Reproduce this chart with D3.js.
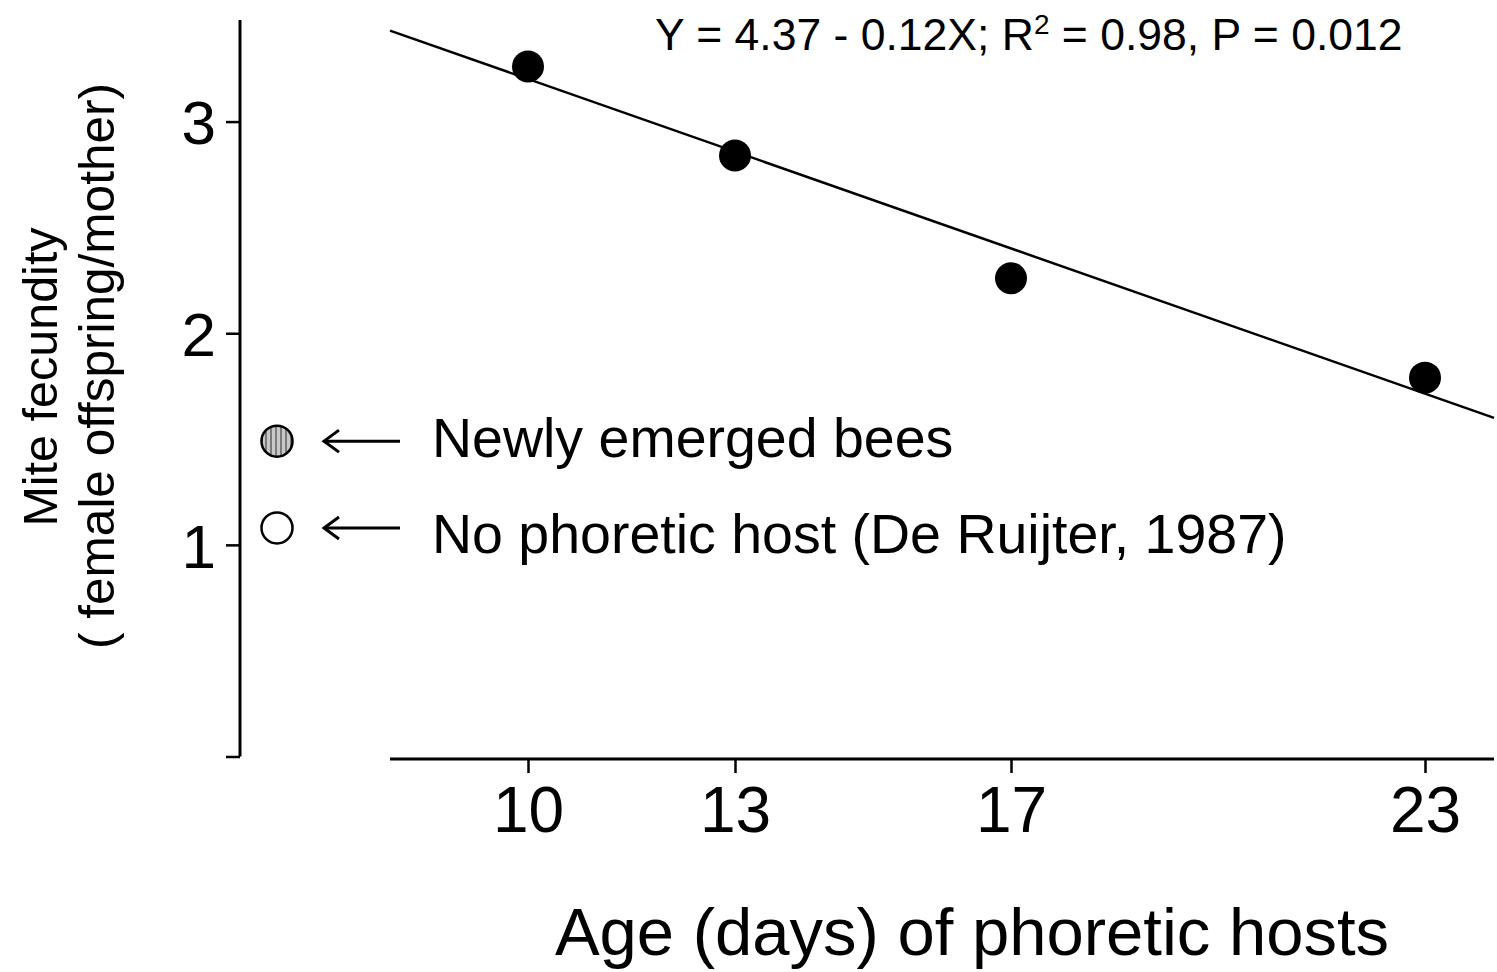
<!DOCTYPE html>
<html><head><meta charset="utf-8">
<script src="https://cdn.jsdelivr.net/npm/d3@7"></script>
<style>html,body{margin:0;padding:0;background:#fff;}svg{display:block;}text{font-family:"Liberation Sans",Arial,sans-serif;fill:#000;}</style>
</head><body><svg id="c" width="1497" height="972"></svg>
<script>
// Data
const ages = [10, 13, 17, 23];
const fecundity = [3.26, 2.84, 2.26, 1.79];
const xTicks = [10, 13, 17, 23];
const yTicks = [1, 2, 3];
const fitX = [8, 24];
const fitY = [3.43, 1.60];
const refLabels = ["Newly emerged bees", "No phoretic host (De Ruijter, 1987)"];
const refValues = [1.49, 1.08];
const refStyles = ["striped", "open"];

const svg = d3.select("#c");
const x = d3.scaleLinear().domain([8, 24]).range([390, 1494]);
const y = d3.scaleLinear().domain([0, 3.48]).range([756.5, 20]);

// stripe pattern
const defs = svg.append("defs");
const pat = defs.append("pattern").attr("id", "stripes").attr("patternUnits", "userSpaceOnUse")
  .attr("width", 5).attr("height", 5);
pat.append("rect").attr("width", 5).attr("height", 5).attr("fill", "#c8c8c8");
pat.append("rect").attr("x", 0).attr("width", 2).attr("height", 5).attr("fill", "#7a7a7a");

// Y axis
const yAxisX = 240;
const yAx = svg.append("g").attr("transform", `translate(${yAxisX},0)`)
  .call(d3.axisLeft(y).tickValues([0, ...yTicks]).tickSize(14).tickPadding(10).tickFormat(d => d === 0 ? "" : d3.format("d")(d)));
yAx.select(".domain").remove();
yAx.append("line").attr("x1", 0).attr("x2", 0).attr("y1", y(3.48)).attr("y2", y(0)).attr("stroke", "#000").attr("stroke-width", 3);
yAx.selectAll(".tick line").attr("stroke", "#000").attr("stroke-width", 2.5);
yAx.selectAll(".tick text").attr("font-size", 62).attr("dy", "0.36em").style("font-family", "Liberation Sans, Arial, sans-serif").attr("fill", "#000");

// X axis
const xAxisY = 759;
const xAx = svg.append("g").attr("transform", `translate(0,${xAxisY})`)
  .call(d3.axisBottom(x).tickValues(xTicks).tickSize(14).tickPadding(14).tickFormat(d3.format("d")));
xAx.select(".domain").remove();
xAx.append("line").attr("x1", x(8)).attr("x2", x(24)).attr("y1", 0).attr("y2", 0).attr("stroke", "#000").attr("stroke-width", 3);
xAx.selectAll(".tick line").attr("stroke", "#000").attr("stroke-width", 2.5);
xAx.selectAll(".tick text").attr("font-size", 64).attr("dy", "0.71em").style("font-family", "Liberation Sans, Arial, sans-serif").attr("fill", "#000");

// Regression line
svg.append("line").attr("x1", x(fitX[0])).attr("y1", y(fitY[0])).attr("x2", x(fitX[1])).attr("y2", y(fitY[1]))
  .attr("stroke", "#000").attr("stroke-width", 2.5);

// Points
svg.selectAll("circle.pt").data(ages).enter().append("circle").attr("class", "pt")
  .attr("cx", d => x(d)).attr("cy", (d, i) => y(fecundity[i])).attr("r", 16).attr("fill", "#000");

// Reference markers, arrows, labels
const markerX = 277;
const textOffsets = [16, 25];
refValues.forEach((v, i) => {
  const cy = y(v);
  svg.append("circle").attr("cx", markerX).attr("cy", cy).attr("r", 15.5)
    .attr("fill", refStyles[i] === "striped" ? "url(#stripes)" : "#fff").attr("stroke", "#000").attr("stroke-width", 2.5);
  svg.append("line").attr("x1", 400).attr("x2", 326).attr("y1", cy).attr("y2", cy)
    .attr("stroke", "#000").attr("stroke-width", 3);
  svg.append("path").attr("d", `M${339},${cy - 11} L${324},${cy} L${339},${cy + 11}`)
    .attr("fill", "none").attr("stroke", "#000").attr("stroke-width", 3);
  svg.append("text").attr("x", 432).attr("y", cy + textOffsets[i]).attr("font-size", 55.5).text(refLabels[i]);
});

// Equation
const eq = svg.append("text").attr("x", 655).attr("y", 50).attr("font-size", 44.5);
eq.append("tspan").text("Y = 4.37 - 0.12X; R");
eq.append("tspan").attr("font-size", 28).attr("dy", -16).text("2");
eq.append("tspan").attr("dy", 16).text(" = 0.98, P = 0.012");

// Axis titles
svg.append("text").attr("x", 972).attr("y", 955).attr("text-anchor", "middle").attr("font-size", 67)
  .text("Age (days) of phoretic hosts");
svg.append("text").attr("transform", "translate(57,377) rotate(-90)").attr("text-anchor", "middle").attr("font-size", 48.5)
  .text("Mite fecundity");
svg.append("text").attr("transform", "translate(114,366) rotate(-90)").attr("text-anchor", "middle").attr("font-size", 49.5)
  .text("( female offspring/mother)");
</script></body></html>
